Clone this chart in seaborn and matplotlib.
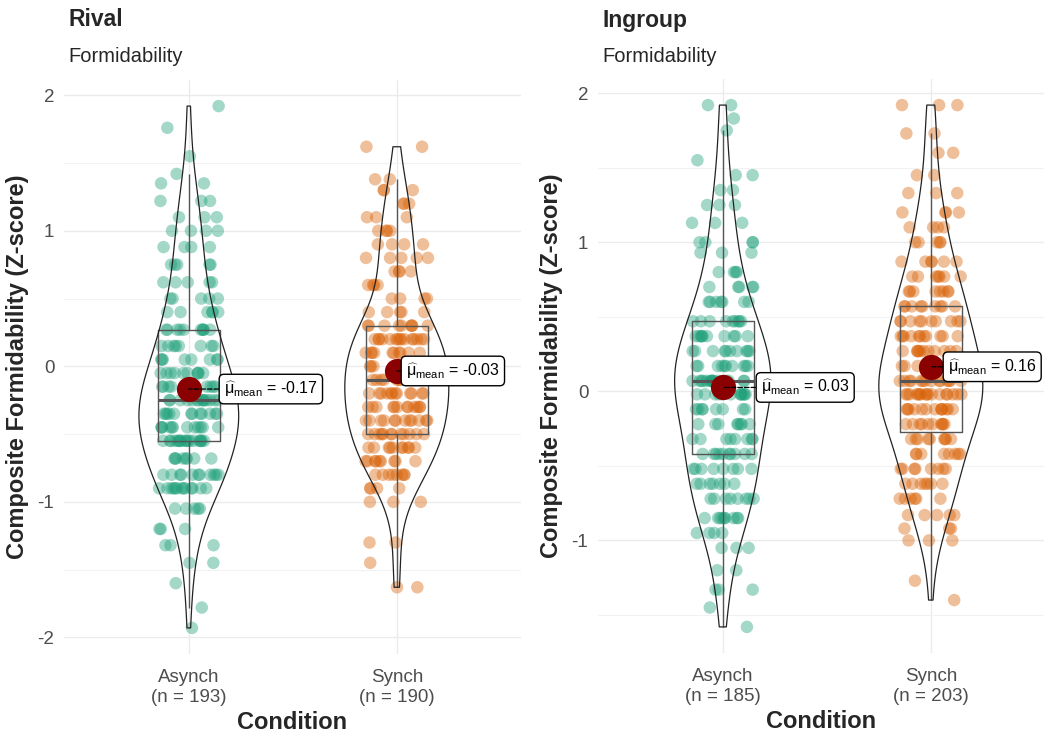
import numpy as np
import pandas as pd
import matplotlib
matplotlib.use("Agg")
import matplotlib.pyplot as plt
import seaborn as sns

sns.set_style("white")
plt.rcParams['font.family'] = ['Liberation Sans', 'DejaVu Sans']
plt.rcParams['axes.unicode_minus'] = False
plt.rcParams['mathtext.fontset'] = 'custom'
plt.rcParams['mathtext.rm'] = 'Liberation Sans'
plt.rcParams['mathtext.it'] = 'Liberation Sans:italic'

conditions = ["Asynch", "Synch"]
panel_titles = ["Rival", "Ingroup"]
palette = ["#1B9E77", "#D95F02"]

# composite scores: levels and how many points sit at each
rival_asynch_lv = [-1.93, -1.78, -1.6, -1.45, -1.32, -1.2, -1.05, -0.9, -0.8, -0.68, -0.55, -0.45,
                   -0.35, -0.25, -0.15, -0.05, 0.05, 0.15, 0.27, 0.4, 0.5, 0.62, 0.75, 0.88, 1.0,
                   1.1, 1.22, 1.35, 1.42, 1.55, 1.76, 1.92]
rival_asynch_n = [1, 1, 1, 2, 3, 3, 5, 13, 11, 8, 18, 12,
                  12, 14, 12, 10, 8, 8, 10, 6, 5, 5, 5, 4, 4,
                  3, 3, 2, 1, 1, 1, 1]

rival_synch_lv = [-1.63, -1.45, -1.3, -1.0, -0.9, -0.8, -0.7, -0.6, -0.5, -0.4, -0.3, -0.2, -0.1,
                  0.0, 0.1, 0.2, 0.3, 0.4, 0.5, 0.6, 0.7, 0.8, 0.9, 1.0, 1.1, 1.2, 1.3, 1.38, 1.62]
rival_synch_n = [2, 1, 2, 3, 4, 8, 9, 10, 12, 12, 12, 12, 14,
                 12, 10, 15, 9, 5, 4, 4, 4, 5, 4, 4, 3, 3, 3, 2, 2]

ingroup_asynch_lv = [-1.58, -1.45, -1.33, -1.2, -1.05, -0.95, -0.85, -0.72, -0.62, -0.52, -0.42,
                     -0.32, -0.22, -0.12, -0.02, 0.07, 0.17, 0.27, 0.37, 0.47, 0.6, 0.7, 0.8,
                     0.93, 1.0, 1.13, 1.25, 1.35, 1.45, 1.55, 1.75, 1.83, 1.92]
ingroup_asynch_n = [1, 1, 3, 2, 3, 4, 9, 8, 7, 8, 10,
                    8, 8, 8, 12, 16, 10, 10, 10, 9, 7, 5, 4,
                    3, 4, 3, 3, 2, 2, 1, 1, 1, 2]

ingroup_synch_lv = [-1.4, -1.27, -1.0, -0.92, -0.83, -0.72, -0.62, -0.52, -0.42, -0.32, -0.22,
                    -0.12, -0.02, 0.07, 0.17, 0.27, 0.37, 0.47, 0.57, 0.67, 0.77, 0.87, 1.0,
                    1.1, 1.2, 1.33, 1.45, 1.6, 1.73, 1.92]
ingroup_synch_n = [1, 1, 3, 3, 5, 6, 7, 8, 8, 9, 10,
                   13, 17, 14, 11, 11, 11, 10, 9, 8, 7, 6, 5,
                   4, 4, 3, 2, 2, 2, 3]

panels = [
    [(rival_asynch_lv, rival_asynch_n), (rival_synch_lv, rival_synch_n)],
    [(ingroup_asynch_lv, ingroup_asynch_n), (ingroup_synch_lv, ingroup_synch_n)],
]

# where the repelled mean labels sit, px right of the mean dot
label_shift = [[31, 5], [34, 13]]


def make_frame(groups):
    rows = []
    for cond, (lv, n) in zip(conditions, groups):
        vals = np.repeat(lv, n)
        label = f"{cond}\n(n = {len(vals)})"
        for v in vals:
            rows.append((label, v))
    return pd.DataFrame(rows, columns=["Condition", "score"])


fig = plt.figure(figsize=(10.44, 7.34), dpi=100)
W, H = 1044, 734
# axes boxes in pixels: left, top, right, bottom
boxes = [(64, 80, 521, 654), (598, 79, 1044, 653)]
spacing = 208

np.random.seed(3)
for k, groups in enumerate(panels):
    l, t, r, b = boxes[k]
    ax = fig.add_axes([l / W, 1 - b / H, (r - l) / W, (b - t) / H])
    df = make_frame(groups)
    order = list(df["Condition"].unique())

    sns.stripplot(data=df, x="Condition", y="score", hue="Condition", order=order,
                  palette=palette, jitter=0.15, size=9, alpha=0.4, linewidth=0,
                  legend=False, ax=ax, zorder=2)
    sns.boxplot(data=df, x="Condition", y="score", order=order, width=0.3, fill=False,
                color="#555555", linewidth=1.0, showfliers=False, showcaps=False, whis=1.5,
                medianprops=dict(linewidth=2.2, color="#555555"), ax=ax, zorder=3)
    sns.violinplot(data=df, x="Condition", y="score", order=order, fill=False, color="#222222",
                   inner=None, cut=0, width=0.5, density_norm="area", linewidth=0.9,
                   ax=ax, zorder=4)

    for i, cond in enumerate(order):
        m = df.loc[df["Condition"] == cond, "score"].mean()
        ax.scatter([i], [m], s=330, color="#8B0000", zorder=6, linewidth=0)
        ax.annotate(r"$\widehat{\mathrm{\mu}}_{\mathrm{mean}}$" + f" = {m:.2f}", xy=(i, m),
                    xytext=(label_shift[k][i] * 0.72 + 3, 0), textcoords="offset points",
                    ha="left", va="center", fontsize=11.5, color="black", zorder=7,
                    bbox=dict(boxstyle="round,pad=0.3,rounding_size=0.3", fc="white",
                              ec="black", lw=1.0),
                    arrowprops=dict(arrowstyle="-", linestyle="--", color="black", lw=0.9,
                                    shrinkA=0, shrinkB=0))

    lo, hi = df["score"].min(), df["score"].max()
    pad = 0.05 * (hi - lo)
    ax.set_ylim(lo - pad, hi + pad)
    ax.set_xlim(-0.6, -0.6 + (r - l) / spacing)

    yt = np.arange(np.ceil(lo - pad), np.floor(hi + pad) + 1)
    ax.set_yticks(yt)
    ax.set_yticklabels([f"{int(v)}" for v in yt])
    ax.set_yticks(np.arange(np.ceil((lo - pad) * 2) / 2, hi + pad, 0.5), minor=True)
    ax.grid(True, which="major", color="#EBEBEB", lw=1.0, zorder=0)
    ax.grid(True, which="minor", axis="y", color="#F2F2F2", lw=0.8, zorder=0)
    ax.set_axisbelow(True)
    for s in ax.spines.values():
        s.set_visible(False)
    ax.tick_params(axis="both", which="major", length=4, width=1, color="#333333",
                   labelcolor="#4D4D4D", labelsize=13.5, pad=3)
    ax.tick_params(axis="x", which="major", pad=7)
    ax.tick_params(axis="both", which="minor", length=0)

    ax.set_xlabel("Condition", fontsize=17, fontweight="bold", labelpad=4)
    ax.set_ylabel("Composite Formidability (Z-score)", fontsize=17, fontweight="bold",
                  labelpad=6)

    fig.text((l + 4) / W, 1 - 20 / H, panel_titles[k], fontsize=16.5, fontweight="bold",
             va="center", ha="left")
    fig.text((l + 4) / W, 1 - 56 / H, "Formidability", fontsize=14.5, va="center", ha="left")

fig.savefig("out.png", dpi=100)
